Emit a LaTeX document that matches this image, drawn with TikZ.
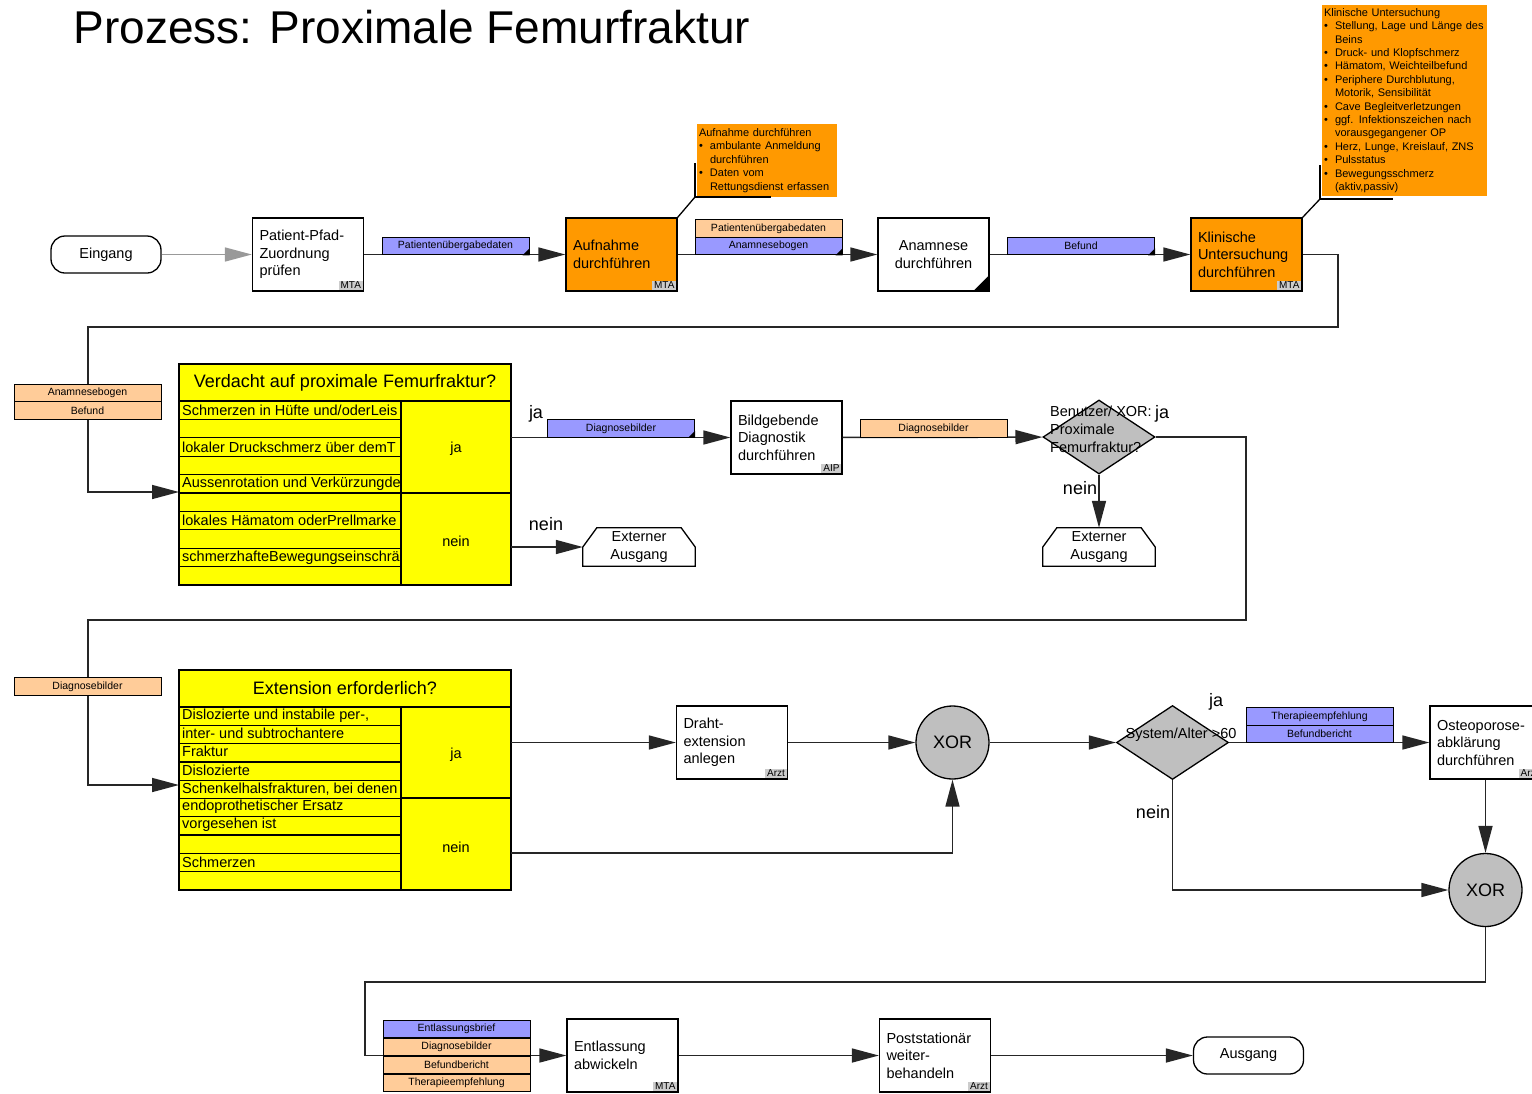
\documentclass[tikz,border=0pt]{standalone}
\usepackage{fontspec}
\setmainfont{Liberation Sans}
\usetikzlibrary{arrows.meta}
\usetikzlibrary{shapes.geometric}

\definecolor{actorange}{HTML}{FF9900}
\definecolor{dataorange}{HTML}{FFCC99}
\definecolor{datablue}{HTML}{9999FF}
\definecolor{ruleyellow}{HTML}{FFFF00}
\definecolor{gategray}{HTML}{BFBFBF}
\definecolor{rolegray}{HTML}{CCCCCC}
\definecolor{flowline}{HTML}{262626}
\definecolor{flowgrey}{HTML}{999999}

\newcommand{\nbul}{\makebox[11pt][l]{\textbullet}}
\newcommand{\nind}{\hspace*{11pt}}

\tikzset{
  proc/.style={draw, line width=1.3pt, fill=white, minimum width=111pt, minimum height=73pt,
    text width=97pt, inner xsep=7pt, inner ysep=0pt, align=left,
    font=\fontsize{14.5}{17.5}\selectfont},
  act/.style={proc, fill=actorange},
  role/.style={fill=rolegray, anchor=south east, inner xsep=2pt, inner ysep=1.5pt,
    font=\fontsize{10}{11}\selectfont},
  data/.style={draw, line width=1pt, minimum width=147pt, minimum height=17.5pt, inner sep=0pt,
    font=\fontsize{10.5}{12}\selectfont},
  din/.style={data, fill=dataorange},
  dout/.style={data, fill=datablue},
  note/.style={fill=actorange, inner xsep=2pt, inner ysep=0pt, align=left,
    font=\fontsize{11}{13.4}\selectfont},
  notelink/.style={line width=1.3pt},
  terminal/.style={draw, line width=1.3pt, rounded corners=14pt, minimum width=110pt,
    minimum height=37pt, font=\fontsize{14.5}{17.5}\selectfont},
  exitbox/.style={fill=white, minimum width=112pt, minimum height=38pt, inner sep=0pt,
    align=center, font=\fontsize{14.5}{18}\selectfont},
  exitedge/.style={line width=1.3pt},
  gate/.style={diamond, draw, line width=1.3pt, fill=gategray, minimum width=112pt,
    minimum height=74pt, inner sep=0pt},
  gatetext/.style={inner sep=0pt, align=left, font=\fontsize{14.5}{18}\selectfont},
  xor/.style={circle, draw, line width=1.3pt, fill=gategray, minimum size=73pt, inner sep=0pt,
    font=\fontsize{18}{20}\selectfont},
  rulebox/.style={draw, line width=1.3pt, fill=ruleyellow, minimum width=332pt, inner sep=0pt},
  tline/.style={line width=1.3pt},
  rulehead/.style={font=\fontsize{18}{20}\selectfont},
  rulecell/.style={font=\fontsize{14.5}{16}\selectfont},
  rulerow/.style={anchor=west, inner sep=0pt, font=\fontsize{14.5}{16}\selectfont},
  flow/.style={draw=flowline, line width=1.6pt, -{Triangle[length=27pt,width=14pt]}},
  flowgray/.style={flow, draw=flowgrey},
  lab/.style={inner sep=0pt, font=\fontsize{18}{20}\selectfont}
}

\begin{document}
\begin{tikzpicture}[x=1pt,y=-1pt]
\useasboundingbox (0,0) rectangle (1532,1093);
\node[anchor=base west, font=\fontsize{46}{50}\selectfont] (title) at (70,43) {Prozess: Proximale Femurfraktur};

% Zeile 1
\node[terminal] (eingang) at (106,254.5) {Eingang};
\node[proc] (pfad) at (308,254.5) {Patient-Pfad-\\Zuordnung\\prüfen};
\node[act] (aufnahme) at (621.5,254.5) {Aufnahme\\durchführen};
\node[proc, align=center] (anamnese) at (933.5,254.5) {Anamnese\\durchführen};
\node[act] (klinisch) at (1246.5,254.5) {Klinische\\Untersuchung\\durchführen};
\fill (anamnese.south east) -- ++(-17pt,0pt) -- ++(17pt,17pt) -- cycle;
\node[role] (rPfad) at ([xshift=-1pt,yshift=1pt]pfad.south east) {MTA};
\node[role] (rAufnahme) at ([xshift=-1pt,yshift=1pt]aufnahme.south east) {MTA};
\node[role] (rKlinisch) at ([xshift=-1pt,yshift=1pt]klinisch.south east) {MTA};

\draw[flowgray] (eingang) -- (pfad);
\draw[flow] (pfad) -- (aufnahme);
\draw[flow] (aufnahme) -- (anamnese);
\draw[flow] (anamnese) -- (klinisch);

\node[dout] (bPue) at (455.5,246) {Patientenübergabedaten};
\node[din] (bPue2) at (768.5,228.5) {Patientenübergabedaten};
\node[dout] (bAnam) at (768.5,246) {Anamnesebogen};
\node[dout] (bBef) at (1081,246) {Befund};
\fill (bPue.south east) -- ++(-7pt,0pt) -- ++(7pt,7pt) -- cycle;
\fill (bAnam.south east) -- ++(-7pt,0pt) -- ++(7pt,7pt) -- cycle;
\fill (bBef.south east) -- ++(-7pt,0pt) -- ++(7pt,7pt) -- cycle;

% Notizen
\node[note, minimum width=140pt, minimum height=73pt, text width=136pt] (noteA) at (767,160.5)
  {Aufnahme durchführen\\
   \nbul ambulante Anmeldung\\
   \nind durchführen\\
   \nbul Daten vom\\
   \nind Rettungsdienst erfassen};
\node[note, minimum width=165pt, minimum height=191pt, text width=161pt] (noteB) at (1404.5,100.5)
  {Klinische Untersuchung\\
   \nbul Stellung, Lage und Länge des\\
   \nind Beins\\
   \nbul Druck- und Klopfschmerz\\
   \nbul Hämatom, Weichteilbefund\\
   \nbul Periphere Durchblutung,\\
   \nind Motorik, Sensibilität\\
   \nbul Cave Begleitverletzungen\\
   \nbul ggf. Infektionszeichen nach\\
   \nind vorausgegangener OP\\
   \nbul Herz, Lunge, Kreislauf, ZNS\\
   \nbul Pulsstatus\\
   \nbul Bewegungsschmerz\\
   \nind (aktiv,passiv)};
\coordinate (hookA) at (695,197);
\coordinate (hookB) at (1320,199);
\draw[notelink] (aufnahme.north east) -- (hookA);
\draw[notelink] ([yshift=34pt]hookA) |- ([xshift=76pt]hookA);
\draw[notelink] (klinisch.north east) -- (hookB);
\draw[notelink] ([yshift=34pt]hookB) |- ([xshift=73pt]hookB);

% Verdacht
\coordinate (inA) at (179,492);
\draw[flow] (klinisch.east) -- (1338,254.5) |- (88,327) |- (inA);
\node[din] (bAnamL) at (87.5,393) {Anamnesebogen};
\node[din] (bBefL) at (87.5,410.5) {Befund};

\node[rulebox, minimum height=221pt] (tabA) at (345,474.5) {};
\draw[tline] (179,401) -- (511,401) (401,401) -- (401,585) (401,493) -- (511,493);
\foreach \r in {1,...,9} \draw[tline] (179,401+18.4*\r) -- (401,401+18.4*\r);
\node[rulehead] (headA) at (345,383) {Verdacht auf proximale Femurfraktur?};
\node[rulecell] (jaA) at (456,449) {ja};
\node[rulecell] (neinA) at (456,541) {nein};
\begin{scope}
  \clip (179,401) rectangle (401,585);
  \node[rulerow] (rowA1) at (182,410.2) {Schmerzen in Hüfte und/oderLeis};
  \node[rulerow] (rowA2) at (182,447) {lokaler Druckschmerz über demT};
  \node[rulerow] (rowA3) at (182,483.8) {Aussenrotation und Verkürzungde};
  \node[rulerow] (rowA4) at (182,520.6) {lokales Hämatom oderPrellmarke};
  \node[rulerow] (rowA5) at (182,557.4) {schmerzhafteBewegungseinschrä};
\end{scope}

\coordinate (outJaA) at (511,437.5);
\coordinate (outNeinA) at (511,547);
\node[proc] (bild) at (786.5,437.5) {Bildgebende\\Diagnostik\\durchführen};
\node[role] (rBild) at ([xshift=-1pt,yshift=1pt]bild.south east) {AIP};
\node[gate] (diaA) at (1099,437) {};
\node[exitbox] (extA) at (639,547) {Externer\\Ausgang};
\draw[exitedge] (extA.south west) -- (extA.west) -- ([xshift=14pt]extA.north west)
  -- ([xshift=-14pt]extA.north east) -- (extA.east) -- (extA.south east) -- cycle;
\node[exitbox] (extB) at (1099,547) {Externer\\Ausgang};
\draw[exitedge] (extB.south west) -- (extB.west) -- ([xshift=14pt]extB.north west)
  -- ([xshift=-14pt]extB.north east) -- (extB.east) -- (extB.south east) -- cycle;

\draw[flow] (outJaA) -- (bild);
\draw[flow] (bild) -- (diaA);
\draw[flow] (outNeinA) -- (extA);
\draw[flow] (diaA) -- (extB);
\node[dout] (bDiag1) at (621,428.5) {Diagnosebilder};
\fill (bDiag1.south east) -- ++(-7pt,0pt) -- ++(7pt,7pt) -- cycle;
\node[din] (bDiag2) at (933.5,428.5) {Diagnosebilder};
\node[gatetext, anchor=north west] (diaAtext) at (1050,406) {Benutzer/ XOR:\\Proximale\\Femurfraktur?};
\node[lab] (labJaA) at (536,414) {ja};
\node[lab] (labNeinA) at (546,524) {nein};
\node[lab] (labJaD) at (1162,414) {ja};
\node[lab] (labNeinD) at (1080,488) {nein};

% Extension
\coordinate (inB) at (179,785);
\draw[flow] (diaA.east) -- (1246,437) |- (88,620) |- (inB);
\node[din] (bDiag3) at (87.5,686.5) {Diagnosebilder};

\node[rulebox, minimum height=220pt] (tabB) at (345,780) {};
\draw[tline] (179,707) -- (511,707) (401,707) -- (401,890) (401,798) -- (511,798);
\foreach \r in {1,...,9} \draw[tline] (179,707+18.3*\r) -- (401,707+18.3*\r);
\node[rulehead] (headB) at (345,688) {Extension erforderlich?};
\node[rulecell] (jaB) at (456,755) {ja};
\node[rulecell] (neinB) at (456,847) {nein};
\begin{scope}
  \clip (179,707) rectangle (401,890);
  \node[rulerow] (rowB1) at (182,715.5) {Dislozierte und instabile per-,};
  \node[rulerow] (rowB2) at (182,733.8) {inter- und subtrochantere};
  \node[rulerow] (rowB3) at (182,751.5) {Fraktur};
  \node[rulerow] (rowB4) at (182,770.4) {Dislozierte};
  \node[rulerow] (rowB5) at (182,788.7) {Schenkelhalsfrakturen, bei denen};
  \node[rulerow] (rowB6) at (182,806.5) {endoprothetischer Ersatz};
  \node[rulerow] (rowB7) at (182,824.5) {vorgesehen ist};
  \node[rulerow] (rowB8) at (182,861.9) {Schmerzen};
\end{scope}

\coordinate (outJaB) at (511,742.5);
\coordinate (outNeinB) at (511,853);
\node[proc] (draht) at (732,742.5) {Draht-\\extension\\anlegen};
\node[role] (rDraht) at ([xshift=-1pt,yshift=1pt]draht.south east) {Arzt};
\node[xor] (xorA) at (952.5,742.5) {XOR};
\node[gate] (diaB) at (1172.5,742.5) {};
\node[proc] (osteo) at (1485.5,742.5) {Osteoporose-\\abklärung\\durchführen};
\node[role] (rOsteo) at ([xshift=-1pt,yshift=1pt]osteo.south east) {Arzt};
\node[xor] (xorB) at (1485.5,890) {XOR};

\draw[flow] (outJaB) -- (draht);
\draw[flow] (draht) -- (xorA);
\draw[flow] (outNeinB) -| (xorA);
\draw[flow] (xorA) -- (diaB);
\draw[flow] (diaB) -- (osteo);
\draw[flow] (osteo) -- (xorB);
\draw[flow] (diaB) |- (xorB);
\node[dout] (bTher) at (1319.5,716.5) {Therapieempfehlung};
\node[dout] (bBefB) at (1319.5,734) {Befundbericht};
\node[gatetext] (diaBtext) at (1181,735) {System/Alter >60};
\node[lab] (labJaB) at (1216,702) {ja};
\node[lab] (labNeinB) at (1153,812) {nein};

% Entlassung
\node[proc] (entl) at (622.5,1055.5) {Entlassung\\abwickeln};
\node[role] (rEntl) at ([xshift=-1pt,yshift=1pt]entl.south east) {MTA};
\node[proc] (post) at (935,1055.5) {Poststationär\\weiter-\\behandeln};
\node[role] (rPost) at ([xshift=-1pt,yshift=1pt]post.south east) {Arzt};
\node[terminal] (ausgang) at (1248.5,1055.5) {Ausgang};

\draw[flow] (xorB) |- (365,982) |- (entl);
\draw[flow] (entl) -- (post);
\draw[flow] (post) -- (ausgang);
\node[dout] (bEntl) at (456.5,1029) {Entlassungsbrief};
\node[din] (bDiag4) at (456.5,1047) {Diagnosebilder};
\node[din] (bBefC) at (456.5,1065) {Befundbericht};
\node[din] (bTher2) at (456.5,1083) {Therapieempfehlung};
\end{tikzpicture}
\end{document}
